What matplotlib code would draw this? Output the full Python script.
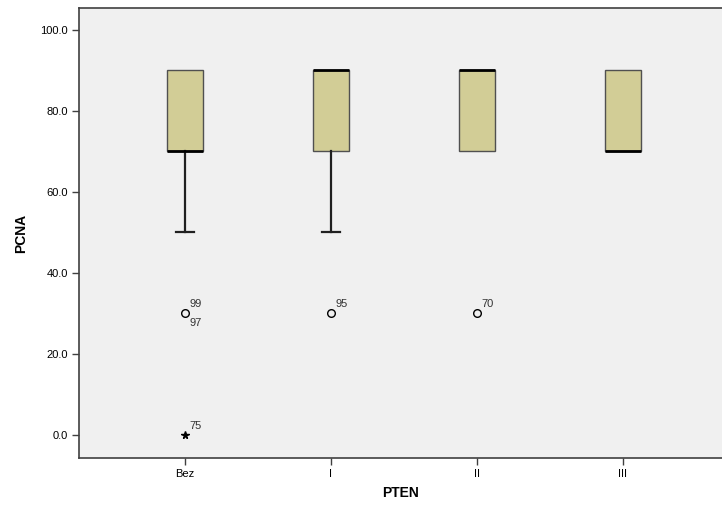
import matplotlib
matplotlib.use("Agg")
import matplotlib.pyplot as plt

plt.rcParams['font.family'] = ['Liberation Sans', 'DejaVu Sans']

# PCNA distribution per PTEN group
categories = ["Bez", "I", "II", "III"]
q1 = [70, 70, 70, 70]
medians = [70, 90, 90, 70]
q3 = [90, 90, 90, 90]
whisker_low = [50, 50, 70, 70]
whisker_high = [90, 90, 90, 90]

# outliers: (group index, value, case labels)
circle_outliers = [(0, 30, ["99", "97"]), (1, 30, ["95"]), (2, 30, ["70"])]
extreme_outliers = [(0, 0, ["75"])]

fig = plt.figure(figsize=(7.22, 5.07), dpi=100)
fig.patch.set_facecolor("white")
ax = fig.add_axes([79 / 722, 49 / 507, 1 - 79 / 722, 450 / 507])
ax.set_facecolor("#F0F0F0")

stats = []
for i, name in enumerate(categories):
    stats.append(dict(label=name, q1=q1[i], med=medians[i], q3=q3[i],
                      whislo=whisker_low[i], whishi=whisker_high[i], fliers=[]))

parts = ax.bxp(stats, positions=range(len(categories)), widths=0.25,
               patch_artist=True, showfliers=False,
               boxprops=dict(facecolor="#D2CD96", edgecolor="#505050", linewidth=1.0),
               medianprops=dict(color="black", linewidth=2.0, solid_capstyle="butt"),
               whiskerprops=dict(color="#202020", linewidth=1.6),
               capprops=dict(color="#202020", linewidth=1.6),
               capwidths=0.125)

# whiskers of zero length collapse onto the box edge: hide their caps
for i in range(len(categories)):
    if whisker_low[i] == q1[i]:
        parts["caps"][2 * i].set_visible(False)
    if whisker_high[i] == q3[i]:
        parts["caps"][2 * i + 1].set_visible(False)

for gi, val, labels in circle_outliers:
    ax.plot(gi, val, marker="o", markersize=5.5, markerfacecolor="none",
            markeredgecolor="black", markeredgewidth=1.0, linestyle="none")
    ax.annotate(labels[0], (gi, val), xytext=(3, 3), textcoords="offset points",
                fontsize=8, color="#333333", ha="left", va="bottom")
    if len(labels) > 1:
        ax.annotate(labels[1], (gi, val), xytext=(3, -3), textcoords="offset points",
                    fontsize=8, color="#333333", ha="left", va="top")

for gi, val, labels in extreme_outliers:
    ax.plot(gi, val, marker="*", markersize=5.5, color="black", linestyle="none")
    ax.annotate(labels[0], (gi, val), xytext=(3, 3), textcoords="offset points",
                fontsize=8, color="#333333", ha="left", va="bottom")

ax.set_xlim(-0.726, 3.68)
ax.set_ylim(-5.7, 105.4)
ax.set_xticks(range(len(categories)))
ax.set_xticklabels(categories, fontsize=8)
ax.set_yticks([0, 20, 40, 60, 80, 100])
ax.set_yticklabels([f"{v:.1f}" for v in [0, 20, 40, 60, 80, 100]], fontsize=8)
ax.tick_params(axis="both", direction="out", length=5, width=1, color="#404040", pad=3)

for side in ["left", "bottom", "top"]:
    ax.spines[side].set_color("#404040")
    ax.spines[side].set_linewidth(1.2)
ax.spines["right"].set_visible(False)

ax.set_ylabel("PCNA", fontsize=10, fontweight="bold", labelpad=9)
ax.set_xlabel("PTEN", fontsize=10, fontweight="bold", labelpad=5)

fig.savefig("out.png", dpi=100)
